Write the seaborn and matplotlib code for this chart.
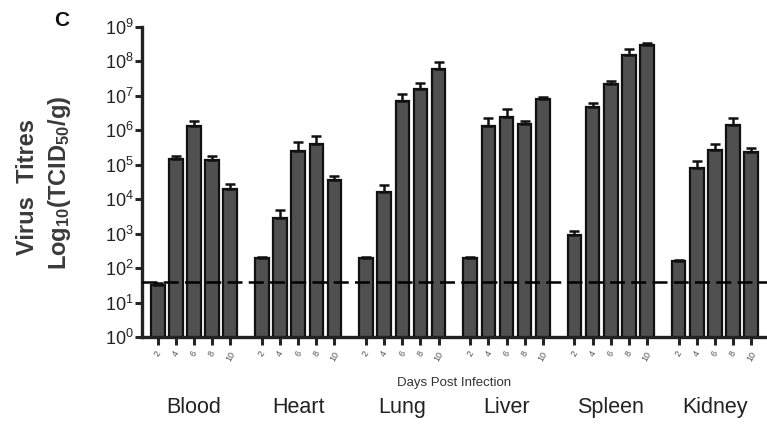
import numpy as np
import pandas as pd
import seaborn as sns
import matplotlib
matplotlib.use("Agg")
import matplotlib.pyplot as plt

organs = ["Blood", "Heart", "Lung", "Liver", "Spleen", "Kidney"]
days = ["2", "4", "6", "8", "10"]

blood = [33, 1.5e5, 1.3e6, 1.4e5, 2.0e4]
heart = [190, 2.8e3, 2.5e5, 4.0e5, 3.5e4]
lung = [190, 1.6e4, 7.0e6, 1.6e7, 6.0e7]
liver = [190, 1.3e6, 2.5e6, 1.5e6, 8.0e6]
spleen = [900, 4.8e6, 2.2e7, 1.5e8, 3.0e8]
kidney = [160, 8.0e4, 2.6e5, 1.4e6, 2.3e5]

blood_err = [5, 3e4, 6e5, 4e4, 8e3]
heart_err = [20, 2e3, 2e5, 3e5, 1.2e4]
lung_err = [15, 1e4, 4e6, 8e6, 3.5e7]
liver_err = [15, 9e5, 1.5e6, 3e5, 1e6]
spleen_err = [250, 1.5e6, 5e6, 7e7, 5e7]
kidney_err = [15, 5e4, 1.3e5, 8e5, 8e4]

detection_limit = 40

values = [blood, heart, lung, liver, spleen, kidney]
errors = [blood_err, heart_err, lung_err, liver_err, spleen_err, kidney_err]

rows = []
for o, vals, errs in zip(organs, values, errors):
    for d, v, e in zip(days, vals, errs):
        rows.append({"organ": o, "day": d, "titre": v, "err": e})
df = pd.DataFrame(rows)

sns.set_style("ticks")
plt.rcParams["font.family"] = ["Liberation Sans", "DejaVu Sans"]
plt.rcParams["mathtext.fontset"] = "custom"
plt.rcParams["mathtext.rm"] = "Liberation Sans"
plt.rcParams["mathtext.it"] = "Liberation Sans:italic"
plt.rcParams["mathtext.bf"] = "Liberation Sans:bold"

fig = plt.figure(figsize=(7.67, 4.26), dpi=100)
ax = fig.add_axes([0.185, 0.209, 0.815, 0.728])
ax.set_yscale("log")

sns.barplot(data=df, x="organ", y="titre", hue="day", order=organs,
            hue_order=days, palette=["#505050"] * 5, width=0.87, gap=0.25,
            errorbar=None, edgecolor="#111111", linewidth=1.6, legend=False,
            ax=ax, zorder=2)

xs, tops, errs = [], [], []
for hi, d in enumerate(days):
    cont = ax.containers[hi]
    for oi, bar in enumerate(cont):
        xs.append(bar.get_x() + bar.get_width() / 2)
        tops.append(bar.get_height())
        errs.append(errors[oi][hi])
ax.errorbar(xs, tops, yerr=[np.zeros(len(errs)), errs], fmt="none",
            ecolor="#111111", elinewidth=1.8, capsize=3.5, capthick=1.8, zorder=3)

ax.axhline(detection_limit, color="black", lw=1.8, ls=(0, (6, 2.5)), zorder=4)

ax.set_ylim(1, 1e9)
ax.set_xlim(-0.5, 5.5)
ax.set_yticks([10.0 ** k for k in range(10)])
ax.set_yticklabels([f"$10^{{{k}}}$" for k in range(10)], fontsize=13, color="#222222")
ax.minorticks_off()
ax.tick_params(axis="y", length=5, width=2.2, pad=1)

order_x = sorted(zip(xs, [days[i // 6] for i in range(len(xs))]))
ax.set_xticks([p for p, _ in order_x])
ax.set_xticklabels([lab for _, lab in order_x], rotation=60, fontsize=6.5,
                   color="#555555")
ax.tick_params(axis="x", length=6, width=2.2, pad=3)
ax.set_xlabel("")
ax.set_ylabel("")

for s in ["top", "right"]:
    ax.spines[s].set_visible(False)
for s in ["left", "bottom"]:
    ax.spines[s].set_linewidth(2.4)
    ax.spines[s].set_color("#222222")

for i, o in enumerate(organs):
    ax.text(i, -0.229, o, transform=ax.get_xaxis_transform(), ha="center",
            va="center", fontsize=15.5, color="#222222")
ax.text(0.5, -0.148, "Days Post Infection", transform=ax.transAxes, ha="center",
        va="center", fontsize=9.5, color="#333333")

fig.text(0.036, 0.562, "Virus  Titres", rotation=90, ha="center", va="center",
         fontsize=17, fontweight="bold", color="#3a3a3a")
fig.text(0.077, 0.572, "Log$_{\\mathbf{10}}$(TCID$_{\\mathbf{50}}$/g)", rotation=90,
         ha="center", va="center", fontsize=17, fontweight="bold", color="#3a3a3a")
fig.text(0.081, 0.952, "C", ha="center", va="center", fontsize=15,
         fontweight="bold", color="#111111")

fig.savefig("out.png", dpi=100)
